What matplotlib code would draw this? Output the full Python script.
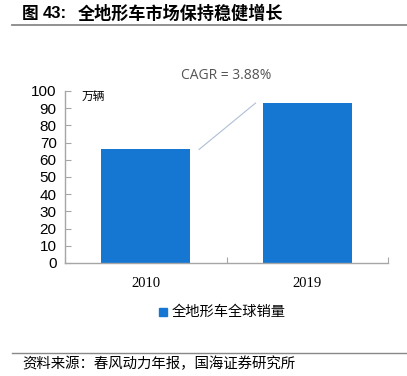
import matplotlib
matplotlib.use('Agg')
import matplotlib.pyplot as plt
from matplotlib.lines import Line2D
from matplotlib.patches import Rectangle

plt.rcParams['font.family'] = ['Noto Sans CJK SC', 'DejaVu Sans']

# データ
years = ['2010', '2019']
sales = [66, 93]  # 万辆
series_name = '全地形车全球销量'
cagr_text = 'CAGR = 3.88%'

bar_color = '#1677d2'
axis_color = '#a6a6a6'

fig = plt.figure(figsize=(4.07, 3.76), dpi=100)
W, H = 407, 376

def fx(px):
    return px / W

def fy(py):
    return 1 - py / H

ax = fig.add_axes([fx(65), fy(263), fx(388) - fx(65), fy(91) - fy(263)])
x = range(len(years))
ax.bar(x, sales, width=0.55, color=bar_color, zorder=2)
ax.set_xlim(-0.5, len(years) - 0.5)
ax.set_ylim(0, 100)
ax.set_yticks(range(0, 101, 10))
ax.set_yticklabels([str(v) for v in range(0, 101, 10)], family='Liberation Sans', fontsize=11)
ax.set_xticks([-0.5, 0.5, 1.5])
ax.set_xticklabels([])
ax.set_xticks(list(x), minor=True)
ax.set_xticklabels(years, minor=True, family='Liberation Serif', fontsize=10.5)
ax.tick_params(axis='x', which='minor', length=0, pad=10)
ax.tick_params(axis='x', which='major', direction='in', length=4, color=axis_color)
ax.tick_params(axis='y', direction='in', length=4, color=axis_color, pad=6)
for s in ['top', 'right']:
    ax.spines[s].set_visible(False)
for s in ['left', 'bottom']:
    ax.spines[s].set_color(axis_color)
    ax.spines[s].set_linewidth(1.0)

ax.text(0.05, 0.97, '万辆', transform=ax.transAxes, fontsize=8.5, va='center', ha='left')

# CAGR の線
ax.plot([0.33, 0.68], [sales[0], sales[1]], color='#aebfd6', lw=0.8, zorder=3)
ax.annotate(cagr_text, xy=(0.5, 100), xycoords='data', xytext=(0, 11),
            textcoords='offset points', ha='center', va='center',
            fontsize=10, color='#555555', family=['Open Sans', 'DejaVu Sans'],
            annotation_clip=False)

# 凡例
fig.patches.append(Rectangle((fx(159), fy(316)), fx(8), fy(308) - fy(316),
                             transform=fig.transFigure, color=bar_color))
fig.text(fx(172), fy(312), series_name, fontsize=10.3, va='center', ha='left')

# タイトルと出典
fig.text(fx(22), fy(14), '图', fontsize=12, fontweight='bold', va='center', ha='left')
fig.text(fx(43), fy(14), '43:', fontsize=12, fontweight='bold', va='center', ha='left',
         family='Liberation Sans')
fig.text(fx(78), fy(14), '全地形车市场保持稳健增长', fontsize=12.3, fontweight='bold',
         va='center', ha='left')
fig.lines.append(Line2D([fx(12), 1], [fy(25), fy(25)], transform=fig.transFigure,
                        color='#888888', lw=1.3))
fig.lines.append(Line2D([fx(12), 1], [fy(353), fy(353)], transform=fig.transFigure,
                        color='#888888', lw=1.0))
fig.text(fx(22), fy(364), '资料来源：春风动力年报，国海证券研究所', fontsize=10.4,
         va='center', ha='left')

fig.savefig('out.png', dpi=100)
